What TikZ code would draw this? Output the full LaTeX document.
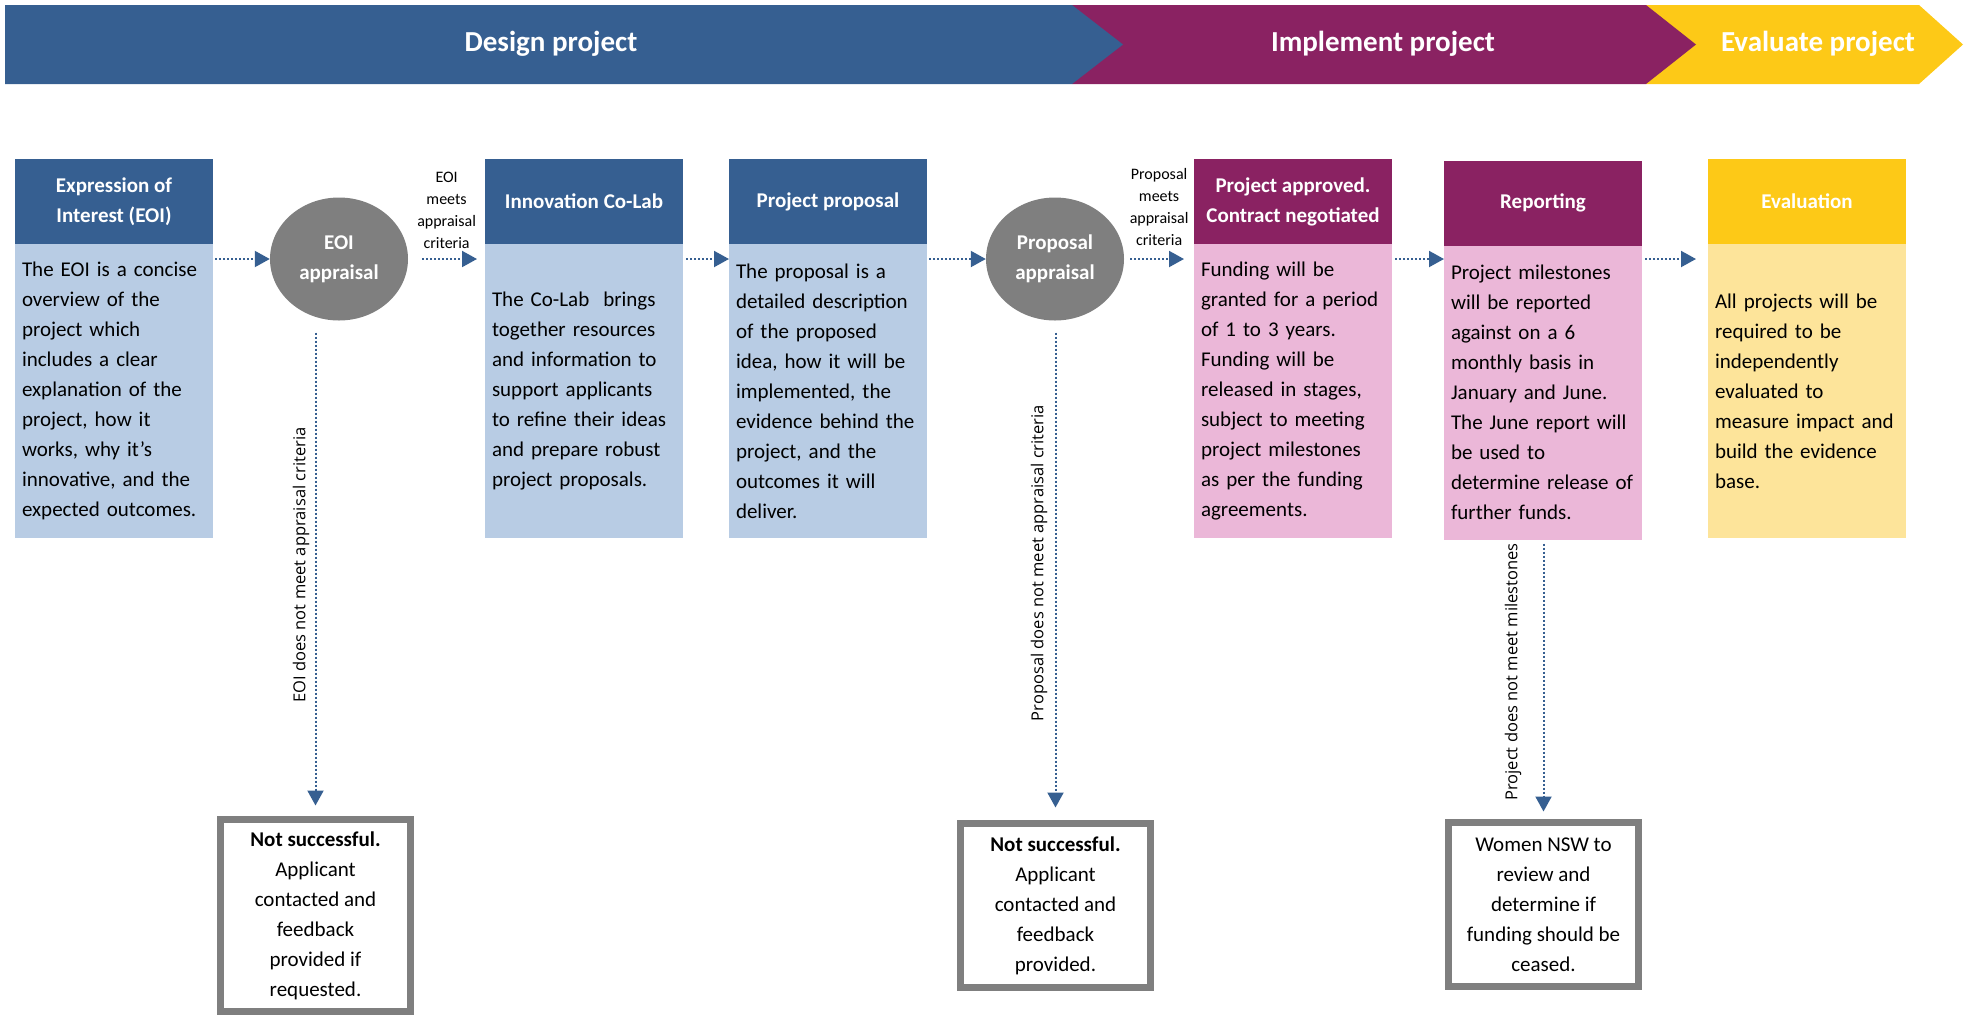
\documentclass[tikz,border=0pt]{standalone}
\usepackage{fontspec}
\setmainfont{Carlito}
\newfontfamily\refusalfont{Open Sans}
\usetikzlibrary{shapes.geometric,arrows.meta,positioning}
\definecolor{designblue}{HTML}{365F91}
\definecolor{lightblue}{HTML}{B8CCE4}
\definecolor{implpurple}{HTML}{8A2262}
\definecolor{lightpink}{HTML}{EBB7D8}
\definecolor{evalyellow}{HTML}{FDC917}
\definecolor{lightyellow}{HTML}{FDE49A}
\definecolor{appgray}{HTML}{7F7F7F}
\begin{document}
\begin{tikzpicture}[x=1pt,y=-1pt,
  boxhead/.style={minimum width=198pt, minimum height=85pt, inner sep=0pt, outer sep=0pt,
                  align=center, text=white, font=\fontsize{21}{30}\selectfont\bfseries},
  boxbody/.style={below=0pt of #1, text width=184pt, inner xsep=7pt, inner ysep=0pt,
                  minimum height=294pt, outer sep=0pt, align=left, font=\fontsize{21}{30}\selectfont},
  appraisal/.style={ellipse, fill=appgray, minimum width=138pt, minimum height=123pt, inner sep=0pt,
                  align=center, text=white, font=\fontsize{21}{30}\selectfont\bfseries},
  outcome/.style={draw=appgray, line width=7pt, minimum width=190pt, inner sep=0pt,
                  align=center, font=\fontsize{21}{30}\selectfont},
  flow/.style={draw=designblue, line width=2pt, dash pattern=on 2pt off 2pt,
                  -{Triangle[length=15pt,width=16pt]}},
  criteria/.style={align=center, inner sep=0pt, font=\fontsize{16}{22}\selectfont},
  refusal/.style={rotate=90, inner sep=0pt, font=\refusalfont\fontsize{16.5}{20}\selectfont},
  phase/.style={text=white, inner sep=0pt, font=\fontsize{29}{34}\selectfont\bfseries}]
\useasboundingbox (0,0) rectangle (1966,1018);

\fill[evalyellow] (1646,5) -- (1919,5) -- (1963,44.5) -- (1919,84) -- (1646,84) -- cycle;
\fill[implpurple] (1072,5) -- (1646,5) -- (1696,44.5) -- (1646,84) -- (1072,84) -- cycle;
\fill[designblue] (5,5) -- (1072,5) -- (1123,44.5) -- (1072,84) -- (5,84) -- cycle;
\node[phase] (design) at (551,44) {Design project};
\node[phase] (implement) at (1383,44) {Implement project};
\node[phase] (evaluate) at (1818,44) {Evaluate project};

\node[boxhead, fill=designblue] (eoih) at (114,201.5) {Expression of\\Interest (EOI)};
\node[boxbody=eoih, fill=lightblue] (eoib) {The EOI is a concise\\overview of the\\project which\\includes a clear\\explanation of the\\project, how it\\works, why it’s\\innovative, and the\\expected outcomes.};

\node[appraisal] (eoiapp) at (339,259) {EOI\\appraisal};

\node[boxhead, fill=designblue] (labh) at (584,201.5) {Innovation Co-Lab};
\node[boxbody=labh, fill=lightblue] (labb) {The Co-Lab~ brings\\together resources\\and information to\\support applicants\\to refine their ideas\\and prepare robust\\project proposals.};

\node[boxhead, fill=designblue] (proph) at (828,201.5) {Project proposal};
\node[boxbody=proph, fill=lightblue] (propb) {The proposal is a\\detailed description\\of the proposed\\idea, how it will be\\implemented, the\\evidence behind the\\project, and the\\outcomes it will\\deliver.};

\node[appraisal] (propapp) at (1055,259) {Proposal\\appraisal};

\node[boxhead, fill=implpurple] (apprh) at (1293,201.5) {Project approved.\\Contract negotiated};
\node[boxbody=apprh, fill=lightpink] (apprb) {Funding will be\\granted for a period\\of 1 to 3 years.\\Funding will be\\released in stages,\\subject to meeting\\project milestones\\as per the funding\\agreements.};

\node[boxhead, fill=implpurple] (reph) at (1543,203) {Reporting};
\node[boxbody=reph, fill=lightpink] (repb) {Project milestones\\will be reported\\against on a 6\\monthly basis in\\January and June.\\The June report will\\be used to\\determine release of\\further funds.};

\node[boxhead, fill=evalyellow] (evalh) at (1807,201.5) {Evaluation};
\node[boxbody=evalh, fill=lightyellow] (evalb) {All projects will be\\required to be\\independently\\evaluated to\\measure impact and\\build the evidence\\base.};

\node[outcome, minimum height=192pt] (nos1) at (315.5,915.5) {\textbf{Not successful.}\\Applicant\\contacted and\\feedback\\provided if\\requested.};
\node[outcome, minimum height=164pt] (nos2) at (1055.5,905.5) {\textbf{Not successful.}\\Applicant\\contacted and\\feedback\\provided.};
\node[outcome, minimum height=164pt] (review) at (1543.5,904.5) {Women NSW to\\review and\\determine if\\funding should be\\ceased.};

\draw[flow, shorten <=2pt] (eoib.east |- eoiapp) -- (eoiapp);
\draw[flow, shorten <=14pt, shorten >=8pt] (eoiapp) -- node[criteria, above=9pt] (eoimeets) {EOI\\meets\\appraisal\\criteria} (labb.west |- eoiapp);
\draw[flow, shorten <=3pt] (labb.east |- eoiapp) -- (propb.west |- eoiapp);
\draw[flow, shorten <=2pt] (propb.east |- propapp) -- (propapp);
\draw[flow, shorten <=6pt, shorten >=10pt] (propapp) -- node[criteria, above=12pt] (propmeets) {Proposal\\meets\\appraisal\\criteria} (apprb.west |- propapp);
\draw[flow, shorten <=3pt] (apprb.east |- propapp) -- (repb.west |- propapp);
\draw[flow, shorten <=3pt, shorten >=12pt] (repb.east |- propapp) -- (evalb.west |- propapp);

\draw[flow, shorten <=12pt, shorten >=10.5pt] (nos1.north |- eoiapp.south) -- (nos1.north);
\draw[flow, shorten <=12pt, shorten >=12.5pt] (nos2.north |- propapp.south) -- (nos2.north);
\draw[flow, shorten <=4pt, shorten >=7.5pt] (review.north |- repb.south) -- (review.north);

\node[refusal] (eoifail) at (301,565) {EOI does not meet appraisal criteria};
\node[refusal] (propfail) at (1039,563) {Proposal does not meet appraisal criteria};
\node[refusal] (milefail) at (1513,672) {Project does not meet milestones};
\end{tikzpicture}
\end{document}
